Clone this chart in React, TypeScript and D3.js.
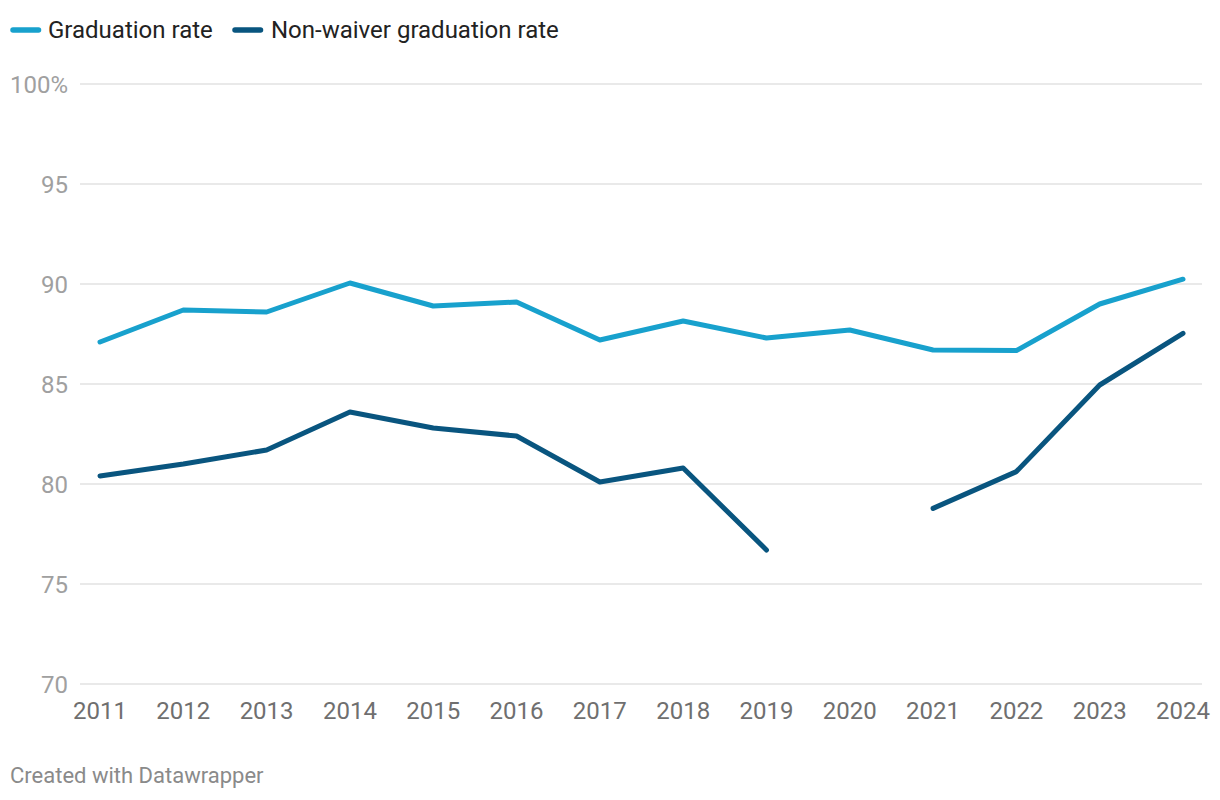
import React from "react";
import * as d3 from "d3";

const years = [2011, 2012, 2013, 2014, 2015, 2016, 2017, 2018, 2019, 2020, 2021, 2022, 2023, 2024];
const graduationRate = [87.1, 88.7, 88.6, 90.05, 88.9, 89.1, 87.2, 88.15, 87.3, 87.7, 86.7, 86.67, 89.0, 90.24];
const nonWaiverRate: (number | null)[] = [80.4, 81.0, 81.7, 83.6, 82.8, 82.4, 80.1, 80.8, 76.7, null, 78.78, 80.62, 84.95, 87.53];
const yTicks = [70, 75, 80, 85, 90, 95, 100];
const seriesNames = ["Graduation rate", "Non-waiver graduation rate"];
const colors = ["#18a1cd", "#09557f"];

const W = 1220;
const H = 800;
const left = 100, right = 1183, top = 84, bottom = 684;
const gridLeft = 80, gridRight = 1202;

export default function App() {
  const x = d3.scalePoint<number>().domain(years).range([left, right]);
  const y = d3.scaleLinear().domain([70, 100]).range([bottom, top]);

  const line = d3
    .line<number | null>()
    .defined((d) => d !== null)
    .x((_, i) => x(years[i]) as number)
    .y((d) => y(d as number));

  const series = [graduationRate, nonWaiverRate];

  return (
    <div style={{ position: "absolute", left: 0, top: 0 }}>
      <svg width={W} height={H} style={{ display: "block", fontFamily: "Roboto, sans-serif" }}>
        <rect width={W} height={H} fill="#ffffff" />
        {/* legend */}
        <g>
          <line x1={13} x2={38.5} y1={30} y2={30} stroke={colors[0]} strokeWidth={5.5} strokeLinecap="round" />
          <text x={48} y={38} fontSize={24} fill="#222">{seriesNames[0]}</text>
          <line x1={235} x2={260.5} y1={30} y2={30} stroke={colors[1]} strokeWidth={5.5} strokeLinecap="round" />
          <text x={271} y={38} fontSize={24} fill="#222">{seriesNames[1]}</text>
        </g>
        {/* grid */}
        {yTicks.map((t) => (
          <g key={t}>
            <line x1={gridLeft} x2={gridRight} y1={y(t)} y2={y(t)} stroke="#e2e2e2" strokeWidth={1.5} />
            <text x={68} y={y(t) + 8.5} fontSize={24} fill="#a0a0a0" textAnchor="end">
              {t === 100 ? "100%" : t}
            </text>
          </g>
        ))}
        {/* x axis labels */}
        {years.map((yr) => (
          <text key={yr} x={x(yr)} y={719} fontSize={24} fill="#6f6f6f" textAnchor="middle">
            {yr}
          </text>
        ))}
        {/* lines */}
        {series.map((s, i) => (
          <path
            key={i}
            d={line(s) || ""}
            fill="none"
            stroke={colors[i]}
            strokeWidth={5}
            strokeLinejoin="round"
            strokeLinecap="round"
          />
        ))}
        <text x={10} y={783} fontSize={22} fill="#8a8a8a">Created with Datawrapper</text>
      </svg>
    </div>
  );
}
